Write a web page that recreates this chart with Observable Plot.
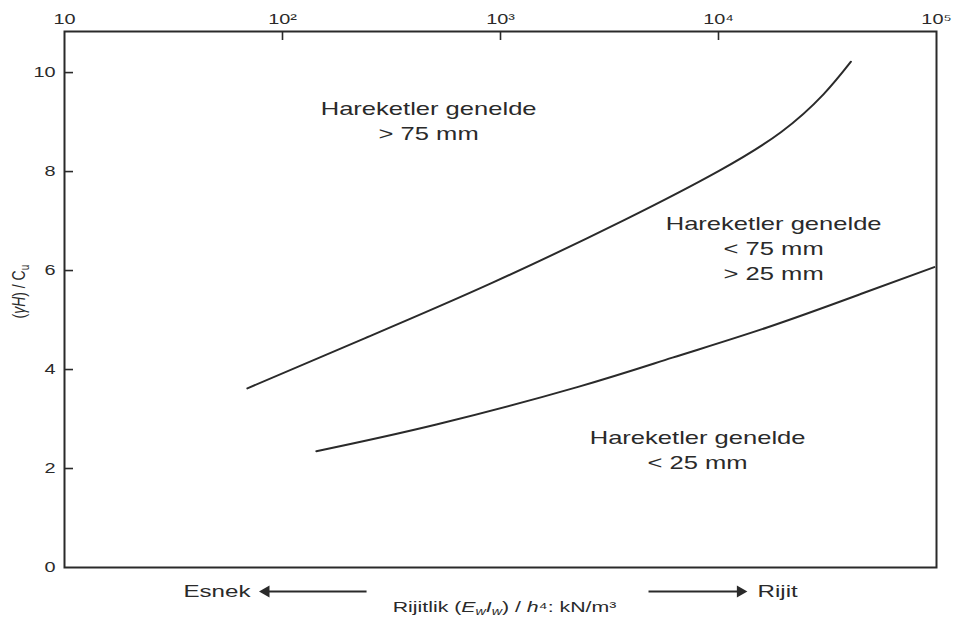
<!DOCTYPE html>
<html><head><meta charset="utf-8">
<script src="https://cdn.jsdelivr.net/npm/d3@7"></script>
<script src="https://cdn.jsdelivr.net/npm/@observablehq/plot@0.6"></script>
<style>
body{margin:0;background:#fff;}
#chart svg{display:block;}
</style>
</head><body><div id="chart"></div>
<script>
// Curves (x: stiffness, log scale; y: (γH)/Cu)
const upperX = [69, 241, 925, 3730, 10100, 19400, 30300, 40500];
const upperY = [3.62, 4.64, 5.76, 7.03, 8.02, 8.80, 9.56, 10.22];
const lowerX = [143, 508, 2270, 6150, 16700, 45200, 97700];
const lowerY = [2.35, 2.89, 3.65, 4.24, 4.85, 5.53, 6.07];

// Axis ticks
const xTicks = [10, 100, 1000, 10000, 100000];
const xTickLabels = ["10", "10²", "10³", "10⁴", "10⁵"];
const yTicks = [0, 2, 4, 6, 8, 10];

// Region annotations
const noteText = ["Hareketler genelde\n> 75 mm", "Hareketler genelde\n< 75 mm\n> 25 mm", "Hareketler genelde\n< 25 mm"];
const noteX = [468, 17900, 8020];
const noteY = [9.05, 6.48, 2.41];

// Bottom direction arrows and words
const arrowX1 = [243, 4775];
const arrowX2 = [84, 12600];
const arrowHeadRotate = [-90, 90];
const arrowY = [-0.485, -0.485];
const dirText = ["Esnek", "Rijit"];
const dirX = [71.3, 15100];
const dirAnchor = ["end", "start"];

const xLabel = "Rijitlik (EwIw) / h⁴: kN/m³";
const yLabel = "(γH) / Cu";

const upper = upperX.map((x, i) => ({x, y: upperY[i]}));
const lower = lowerX.map((x, i) => ({x, y: lowerY[i]}));
const notes = noteText.map((t, i) => ({t, x: noteX[i], y: noteY[i]}));
const arrows = arrowX1.map((x1, i) => ({x1, x2: arrowX2[i], y: arrowY[i], r: arrowHeadRotate[i]}));
const dirs = dirText.map((t, i) => ({t, x: dirX[i], y: arrowY[i], a: dirAnchor[i]}));

const ink = "#2a2a2a";
const W = 959, H = 631, mL = 64, mR = 23, mT = 31, mB = 64;

const svg = Plot.plot({
  width: W, height: H,
  marginLeft: mL, marginRight: mR, marginTop: mT, marginBottom: mB,
  style: {fontFamily: "'Liberation Sans', Arial, sans-serif", color: ink, background: "#fff"},
  x: {type: "log", domain: [10, 100000]},
  y: {domain: [0, 10.83]},
  marks: [
    Plot.axisX(xTicks, {anchor: "top", tickSize: 0, tickPadding: 8, fontSize: 14, label: null,
      tickFormat: d => xTickLabels[xTicks.indexOf(d)]}),
    Plot.axisY(yTicks, {anchor: "left", tickSize: 0, tickPadding: 9, fontSize: 14, label: null}),
    Plot.tickX(xTicks.slice(1, -1), {x: d => d, insetBottom: (H - mT - mB) - 9, stroke: ink, strokeWidth: 1.6}),
    Plot.tickY(yTicks.slice(1), {y: d => d, insetRight: (W - mL - mR) - 9, stroke: ink, strokeWidth: 1.6}),
    Plot.frame({stroke: ink, strokeWidth: 2}),
    Plot.line(upper, {x: "x", y: "y", curve: "natural", stroke: ink, strokeWidth: 2}),
    Plot.line(lower, {x: "x", y: "y", curve: "natural", stroke: ink, strokeWidth: 2}),
    Plot.text(notes, {x: "x", y: "y", text: "t", fontSize: 18, lineHeight: 1.4, fill: ink}),
    Plot.link(arrows, {x1: "x1", x2: "x2", y1: "y", y2: "y", stroke: ink, strokeWidth: 2}),
    Plot.dot(arrows, {x: "x2", y: "y", symbol: "triangle", rotate: "r", r: 4.5, fill: ink, stroke: null}),
    Plot.text(dirs, {x: "x", y: "y", text: "t", textAnchor: "end", fontSize: 17, fill: ink,
      filter: d => d.a === "end"}),
    Plot.text(dirs, {x: "x", y: "y", text: "t", textAnchor: "start", fontSize: 17, fill: ink,
      filter: d => d.a === "start"}),
    Plot.text([xLabel], {frameAnchor: "bottom", dx: 4, dy: 44, fontSize: 15, fill: ink}),
    Plot.text([yLabel], {frameAnchor: "left", dx: -46, dy: 19, rotate: -90, fontSize: 14, fill: ink})
  ]
});

// Rich text for the axis labels (italics and sub/superscripts)
d3.select(svg).selectAll("text").each(function() {
  const s = this.textContent;
  if (s === xLabel) {
    this.innerHTML = 'Rijitlik (<tspan font-style="italic">E</tspan><tspan dy="3" font-size="10" font-style="italic">w</tspan><tspan dy="-3" font-style="italic">I</tspan><tspan dy="3" font-size="10" font-style="italic">w</tspan><tspan dy="-3">) / </tspan><tspan font-style="italic">h</tspan>⁴: kN/m³';
  } else if (s === yLabel) {
    this.innerHTML = '(<tspan font-style="italic">γH</tspan>) / C<tspan dy="3" font-size="10">u</tspan>';
  }
});

// The reference figure is horizontally stretched: widen the lettering to match
d3.select(svg).selectAll("text").each(function() {
  const t = this.getAttribute("transform");
  const rot = /rotate\(/.test(t || "");
  const sc = rot ? " scale(1,1.35)" : " scale(1.42,1)";
  if (t) {
    this.setAttribute("transform", t + sc);
  } else {
    const x = +this.getAttribute("x") || 0, y = +this.getAttribute("y") || 0;
    this.removeAttribute("x"); this.removeAttribute("y");
    this.setAttribute("transform", `translate(${x},${y})` + sc);
  }
});

document.getElementById("chart").appendChild(svg);
</script>
</body></html>
